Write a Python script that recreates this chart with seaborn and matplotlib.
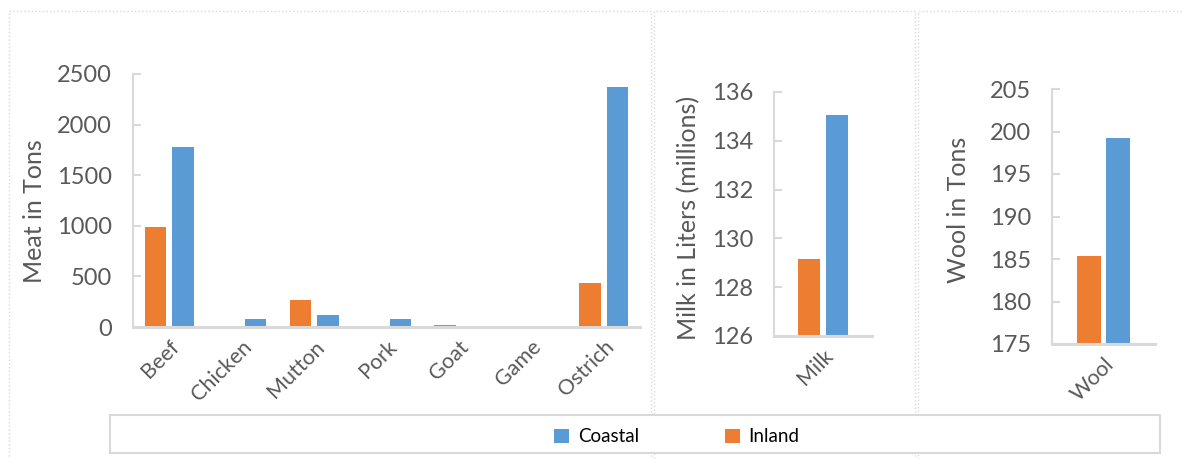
import matplotlib
matplotlib.use("Agg")
import matplotlib.pyplot as plt
from matplotlib.patches import Rectangle, Patch
import seaborn as sns
import pandas as pd

# ---- data ----
meat_categories = ["Beef", "Chicken", "Mutton", "Pork", "Goat", "Game", "Ostrich"]
meat_inland = [990, 0, 270, 0, 15, 0, 430]
meat_coastal = [1775, 80, 120, 75, 0, 0, 2375]
milk_categories = ["Milk"]
milk_inland = [129.17]
milk_coastal = [135.05]
wool_categories = ["Wool"]
wool_inland = [185.4]
wool_coastal = [199.2]
regions = ["Inland", "Coastal"]
legend_order = ["Coastal", "Inland"]

COLORS = {"Inland": "#ED7D31", "Coastal": "#5B9BD5"}
TEXT = "#595959"
GRID = "#D9D9D9"

sns.set_theme(style="white")
plt.rcParams["font.family"] = ["Lato", "DejaVu Sans"]

W, H = 1184, 459
fig = plt.figure(figsize=(W / 100, H / 100), dpi=100)


def frame(left, top, right, bottom):
    return [left / W, 1 - bottom / H, (right - left) / W, (bottom - top) / H]


def make_df(cats, inland, coastal):
    rows = []
    for c, a, b in zip(cats, inland, coastal):
        rows.append({"cat": c, "region": "Inland", "val": a})
        rows.append({"cat": c, "region": "Coastal", "val": b})
    return pd.DataFrame(rows)


def style(ax, ylabel, ylim, yticks, labelpad, label_y):
    ax.set_ylim(*ylim)
    ax.set_yticks(yticks)
    ax.set_ylabel(ylabel, fontsize=18, color=TEXT, labelpad=labelpad)
    ax.yaxis.label.set_y(label_y)
    ax.set_xlabel("")
    for s in ["top", "right"]:
        ax.spines[s].set_visible(False)
    ax.spines["left"].set_color(GRID)
    ax.spines["left"].set_linewidth(1.5)
    ax.spines["bottom"].set_color(GRID)
    ax.spines["bottom"].set_linewidth(2.2)
    ax.tick_params(axis="y", direction="in", length=6, width=1.5, color=GRID,
                   labelsize=17, labelcolor=TEXT, pad=15, left=True)
    ax.tick_params(axis="x", length=0, labelsize=15.5, labelcolor=TEXT, pad=7)
    for lbl in ax.get_xticklabels():
        lbl.set_rotation(45)
        lbl.set_ha("right")
        lbl.set_va("top")
        lbl.set_rotation_mode("anchor")
    ax.set_facecolor("none")
    ax.grid(False)


# panel borders
for (l, r) in [(9, 651), (654, 915), (918, 1195)]:
    fig.patches.append(Rectangle((l / W, -0.1), (r - l) / W, 1.1 - 11 / H,
                                 transform=fig.transFigure, fill=False,
                                 edgecolor=GRID, linewidth=1.0, linestyle=":"))

# meat
ax1 = fig.add_axes(frame(133, 74, 640, 327))
sns.barplot(data=make_df(meat_categories, meat_inland, meat_coastal), x="cat", y="val",
            hue="region", hue_order=regions, palette=COLORS, saturation=1,
            width=0.76, gap=0.22, linewidth=0, legend=False, ax=ax1)
ax1.set_xlim(-0.5, len(meat_categories) - 0.5)
style(ax1, "Meat in Tons", (0, 2500), range(0, 2501, 500), 8, 0.458)

# milk
ax2 = fig.add_axes(frame(774, 92, 872, 336))
sns.barplot(data=make_df(milk_categories, milk_inland, milk_coastal), x="cat", y="val",
            hue="region", hue_order=regions, palette=COLORS, saturation=1,
            width=0.58, gap=0.21, linewidth=0, legend=False, ax=ax2)
ax2.set_xlim(-0.5, 0.5)
style(ax2, "Milk in Liters (millions)", (126, 136), range(126, 137, 2), 8, 0.482)

# wool
ax3 = fig.add_axes(frame(1052, 89, 1155, 344))
sns.barplot(data=make_df(wool_categories, wool_inland, wool_coastal), x="cat", y="val",
            hue="region", hue_order=regions, palette=COLORS, saturation=1,
            width=0.57, gap=0.19, linewidth=0, legend=False, ax=ax3)
ax3.set_xlim(-0.5, 0.5)
style(ax3, "Wool in Tons", (175, 205), range(175, 206, 5), 14, 0.525)

# legend box
fig.patches.append(Rectangle((110 / W, 1 - 453 / H), 1050 / W, 38 / H,
                             transform=fig.transFigure, fill=True, facecolor="white",
                             edgecolor=GRID, linewidth=1.5))
handles = [Patch(facecolor=COLORS[r], edgecolor="none", label=r) for r in legend_order]
fig.legend(handles=handles, loc="center", bbox_to_anchor=(677 / W, 1 - 437 / H),
           ncol=2, frameon=False, fontsize=13.5, handlelength=0.8, handleheight=0.8,
           handletextpad=0.45, columnspacing=4.6, labelcolor="black")

fig.savefig("out.png", dpi=100, facecolor="white")
